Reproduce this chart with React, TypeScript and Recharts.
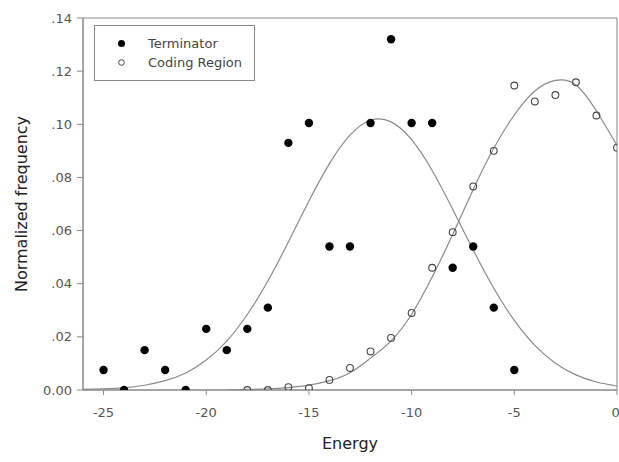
import React from 'react';
import {
  ComposedChart,
  Legend,
  Line,
  ReferenceArea,
  Scatter,
  XAxis,
  YAxis,
  Label,
} from 'recharts';

// Free energy bins and normalized frequencies for each class of sequence.
const terminatorEnergy = [-25, -24, -23, -22, -21, -20, -19, -18, -17, -16, -15, -14, -13, -12, -11, -10, -9, -8, -7, -6, -5];
const terminatorFreq = [0.0075, 0, 0.015, 0.0075, 0, 0.023, 0.015, 0.023, 0.031, 0.093, 0.1005, 0.054, 0.054, 0.1005, 0.132, 0.1005, 0.1005, 0.046, 0.054, 0.031, 0.0075];

const codingEnergy = [-18, -17, -16, -15, -14, -13, -12, -11, -10, -9, -8, -7, -6, -5, -4, -3, -2, -1, 0];
const codingFreq = [0, 0, 0.0011, 0.0007, 0.0038, 0.0083, 0.0145, 0.0196, 0.029, 0.046, 0.0594, 0.0766, 0.09, 0.1146, 0.1086, 0.111, 0.1158, 0.1033, 0.0912];

// Fitted curves, sampled at each energy bin.
const terminatorFitEnergy = [-26, -25, -24, -23, -22, -21, -20, -19, -18, -17, -16, -15, -14, -13, -12, -11, -10, -9, -8, -7, -6, -5, -4, -3, -2, -1, 0];
const terminatorFit = [0.0002, 0.0004, 0.0008, 0.0018, 0.0035, 0.0064, 0.0113, 0.0184, 0.0284, 0.041, 0.0557, 0.0711, 0.0852, 0.0959, 0.1015, 0.1009, 0.0942, 0.0826, 0.068, 0.0527, 0.0383, 0.0262, 0.0168, 0.0101, 0.0057, 0.003, 0.0015];

const codingFitEnergy = [-19, -18, -17, -16, -15, -14, -13, -12, -11, -10, -9, -8, -7, -6, -5, -4, -3, -2, -1, 0];
const codingFit = [0.0001, 0.0002, 0.0004, 0.0009, 0.0018, 0.0035, 0.0065, 0.012, 0.0185, 0.0285, 0.0425, 0.0585, 0.0755, 0.091, 0.1035, 0.1125, 0.1165, 0.1148, 0.105, 0.092];

const xTicks = [-25, -20, -15, -10, -5, 0];
const yTicks = [0, 0.02, 0.04, 0.06, 0.08, 0.1, 0.12, 0.14];

const seriesNames = ['Terminator', 'Coding Region'];

const zip = (xs: number[], ys: number[]) => xs.map((x, i) => ({ x, y: ys[i] }));

const terminatorPoints = zip(terminatorEnergy, terminatorFreq);
const codingPoints = zip(codingEnergy, codingFreq);
const terminatorCurve = zip(terminatorFitEnergy, terminatorFit);
const codingCurve = zip(codingFitEnergy, codingFit);

const FONT = '"DejaVu Sans", sans-serif';
const AXIS_GREY = '#888';

const formatY = (v: number) => (v === 0 ? '0.00' : v.toFixed(2).replace(/^0/, ''));

const FilledDot = (props: any) => <circle cx={props.cx} cy={props.cy} r={4.2} fill="#000" />;
const OpenDot = (props: any) => (
  <circle cx={props.cx} cy={props.cy} r={3.4} fill="none" stroke="#444" strokeWidth={1.1} />
);

const LegendBox = () => (
  <svg width={161} height={56} style={{ display: 'block' }}>
    <rect x={0.5} y={0.5} width={160} height={55} fill="#fff" stroke={AXIS_GREY} />
    <circle cx={27.5} cy={18.5} r={3.5} fill="#000" />
    <text x={54} y={23} fontSize={13} fill="#444" fontFamily={FONT}>{seriesNames[0]}</text>
    <circle cx={27.5} cy={37.5} r={2.8} fill="none" stroke="#444" />
    <text x={54} y={42} fontSize={13} fill="#444" fontFamily={FONT}>{seriesNames[1]}</text>
  </svg>
);

export default function App() {
  return (
    <div style={{ position: 'absolute', left: 0, top: 0, fontFamily: FONT, background: '#fff' }}>
      <ComposedChart width={619} height={462} margin={{ top: 18, right: 2, bottom: 0, left: 0 }}>
        <XAxis
          dataKey="x"
          type="number"
          domain={[-26, 0]}
          ticks={xTicks}
          allowDataOverflow
          height={72}
          tickSize={5}
          tickMargin={13}
          stroke={AXIS_GREY}
          tick={{ fill: '#555', fontSize: 13, fontFamily: FONT }}
        >
          <Label
            content={({ viewBox }: any) => (
              <text
                x={viewBox.x + viewBox.width / 2}
                y={449}
                textAnchor="middle"
                fontSize={16}
                fill="#222"
                fontFamily={FONT}
              >
                Energy
              </text>
            )}
          />
        </XAxis>
        <YAxis
          dataKey="y"
          type="number"
          domain={[0, 0.14]}
          ticks={yTicks}
          allowDataOverflow
          width={83}
          tickSize={6}
          tickMargin={5}
          tickFormatter={formatY}
          stroke={AXIS_GREY}
          tick={{ fill: '#555', fontSize: 13, fontFamily: FONT }}
        >
          <Label
            content={({ viewBox }: any) => {
              const cy = viewBox.y + viewBox.height / 2;
              return (
                <text
                  x={27}
                  y={cy}
                  transform={`rotate(-90 27 ${cy})`}
                  textAnchor="middle"
                  fontSize={16}
                  fill="#222"
                  fontFamily={FONT}
                >
                  Normalized frequency
                </text>
              );
            }}
          />
        </YAxis>
        <ReferenceArea x1={-26} x2={0} y1={0} y2={0.14} fill="none" stroke={AXIS_GREY} ifOverflow="visible" />
        <Line
          data={terminatorCurve}
          dataKey="y"
          type="natural"
          stroke="#8a8a8a"
          strokeWidth={1.2}
          dot={false}
          legendType="none"
          isAnimationActive={false}
        />
        <Line
          data={codingCurve}
          dataKey="y"
          type="natural"
          stroke="#8a8a8a"
          strokeWidth={1.2}
          dot={false}
          legendType="none"
          isAnimationActive={false}
        />
        <Scatter
          name={seriesNames[0]}
          data={terminatorPoints}
          dataKey="y"
          shape={FilledDot}
          isAnimationActive={false}
        />
        <Scatter
          name={seriesNames[1]}
          data={codingPoints}
          dataKey="y"
          shape={OpenDot}
          isAnimationActive={false}
        />
        <Legend
          layout="horizontal"
          verticalAlign="middle"
          align="center"
          content={LegendBox}
          wrapperStyle={{ left: 94, top: 25, width: 161, height: 56 }}
        />
      </ComposedChart>
    </div>
  );
}
